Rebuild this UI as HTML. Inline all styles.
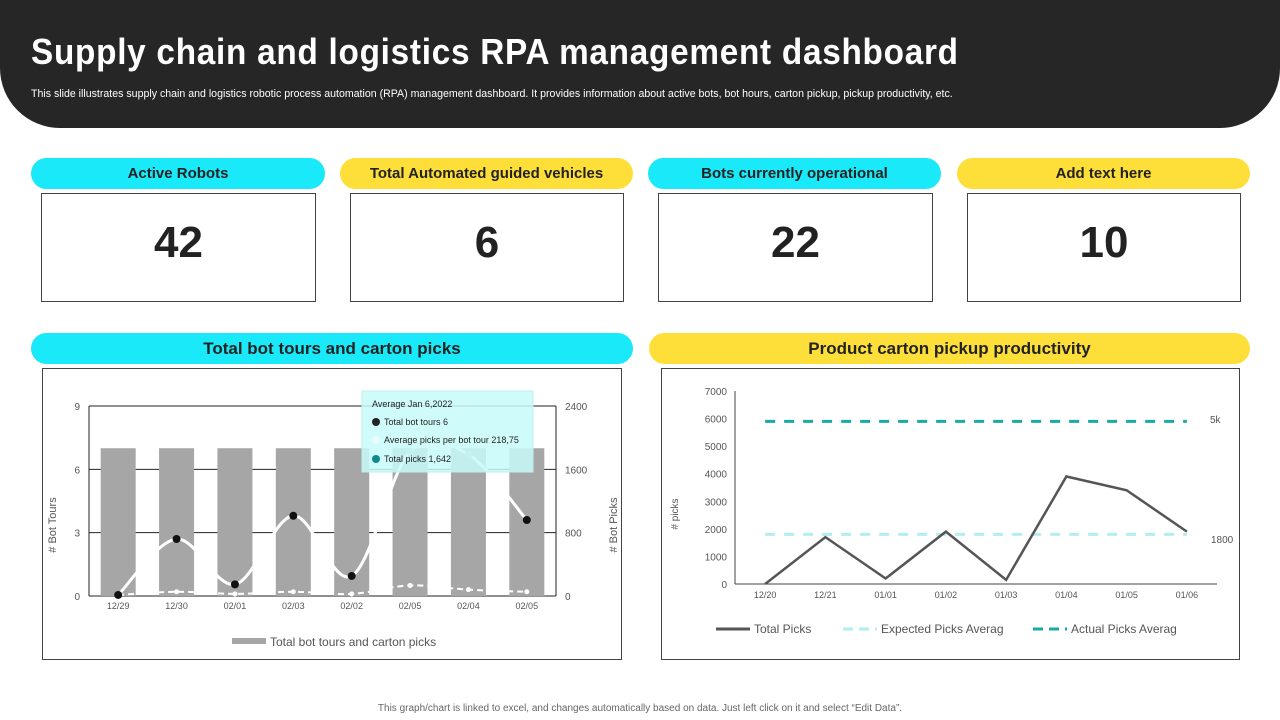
<!DOCTYPE html>
<html><head><meta charset="utf-8"><style>
body{margin:0;width:1280px;height:720px;background:#fff;font-family:"Liberation Sans",sans-serif;position:relative;overflow:hidden}
.abs{position:absolute}
.header{left:0;top:0;width:1280px;height:128px;background:#262626;border-radius:0 0 60px 60px}
.title{left:31px;top:31px;color:#fff;font-size:36px;letter-spacing:0.8px;font-weight:bold;transform:scaleX(0.925);transform-origin:left}
.sub{left:31px;top:88px;color:#fff;font-size:10.6px}
.pill{height:31px;border-radius:16px;font-weight:bold;font-size:15px;color:#222;display:flex;align-items:center;justify-content:center}
.cyan{background:#19E9F8}.yellow{background:#FEDF3A}
.box{border:1px solid #444;display:flex;align-items:center;justify-content:center;font-size:44px;font-weight:bold;color:#222;padding-bottom:10px;box-sizing:border-box;height:109px}
.sec{font-size:17px}
.chartbox{border:1px solid #444;top:368px;height:290px}
</style></head><body>
<div class="abs header"></div>
<div class="abs title">Supply chain and logistics RPA management dashboard</div>
<div class="abs sub">This slide illustrates supply chain and logistics robotic process automation (RPA) management dashboard. It provides information about active bots, bot hours, carton pickup, pickup productivity, etc.</div>

<div class="abs pill cyan" style="left:31px;top:158px;width:294px">Active Robots</div>
<div class="abs pill yellow" style="left:340px;top:158px;width:293px">Total Automated guided vehicles</div>
<div class="abs pill cyan" style="left:648px;top:158px;width:293px">Bots currently operational</div>
<div class="abs pill yellow" style="left:957px;top:158px;width:293px">Add text here</div>
<div class="abs box" style="left:41px;top:193px;width:275px">42</div>
<div class="abs box" style="left:350px;top:193px;width:274px">6</div>
<div class="abs box" style="left:658px;top:193px;width:275px">22</div>
<div class="abs box" style="left:967px;top:193px;width:274px">10</div>

<div class="abs pill cyan sec" style="left:31px;top:333px;width:602px">Total bot tours and carton picks</div>
<div class="abs pill yellow sec" style="left:649px;top:333px;width:601px">Product carton pickup productivity</div>
<div class="abs chartbox" style="left:42px;width:578px"></div>
<div class="abs chartbox" style="left:661px;width:577px"></div>

<svg class="abs" style="left:0;top:0" width="1280" height="720" id="svg"></svg>

<div class="abs" style="left:0;width:1280px;top:703px;text-align:center;font-size:10px;color:#666">This graph/chart is linked to excel, and changes automatically based on data. Just left click on it and select “Edit Data”.</div>

<script>
const leftCats=["12/29","12/30","02/01","02/03","02/02","02/05","02/04","02/05"];
const barVals=[7,7,7,7,7,7,7,7];
const tourVals=[0.05,2.7,0.55,3.8,0.95,6.85,6.7,3.6];
const avgPickVals=[0.05,0.2,0.1,0.2,0.1,0.5,0.3,0.2];
const leftTicks=[0,3,6,9];
const rightTicks=[0,800,1600,2400];
const rCats=["12/20","12/21","01/01","01/02","01/03","01/04","01/05","01/06"];
const totalPicks=[0,1700,200,1900,150,3900,3400,1900];
const expectedAvg=1800;
const actualAvg=5900;
const rTicks=[0,1000,2000,3000,4000,5000,6000,7000];

const NS="http://www.w3.org/2000/svg";
const svg=document.getElementById('svg');
function el(t,a,txt){const e=document.createElementNS(NS,t);for(const k in a)e.setAttribute(k,a[k]);if(txt!=null)e.textContent=txt;svg.appendChild(e);return e;}

// left chart
const L={x0:89,x1:556,y0:596,y1:406,max:9};
const lx=i=>L.x0+(i+0.5)*(L.x1-L.x0)/leftCats.length;
const ly=v=>L.y0-(v/L.max)*(L.y0-L.y1);
leftTicks.forEach((t,i)=>{
 let g=el('line',{x1:L.x0,x2:L.x1,y1:ly(t),y2:ly(t),stroke:'#222','stroke-width':1});
 
 let a=el('text',{x:80,y:ly(t)+4,'text-anchor':'end','font-size':10,fill:'#555'},t);
 
 let b=el('text',{x:565,y:ly(t)+4,'font-size':10,fill:'#555'},rightTicks[i]);
 
});
el('line',{x1:L.x0,x2:L.x0,y1:L.y1,y2:L.y0,stroke:'#222'});
el('line',{x1:L.x1,x2:L.x1,y1:L.y1,y2:L.y0,stroke:'#222'});
barVals.forEach((v,i)=>{
 let r=el('rect',{x:lx(i)-17.5,y:ly(v),width:35,height:L.y0-ly(v),fill:'#a6a6a6'});
 
 let t=el('text',{x:lx(i),y:609,'text-anchor':'middle','font-size':9,fill:'#555'},leftCats[i]);
 
});
function smooth(pts){let d='M'+pts[0][0]+','+pts[0][1];for(let i=0;i<pts.length-1;i++){const p0=pts[i-1]||pts[i],p1=pts[i],p2=pts[i+1],p3=pts[i+2]||p2;d+=' C'+(p1[0]+(p2[0]-p0[0])/6)+','+(p1[1]+(p2[1]-p0[1])/6)+' '+(p2[0]-(p3[0]-p1[0])/6)+','+(p2[1]-(p3[1]-p1[1])/6)+' '+p2[0]+','+p2[1];}return d;}
let tp=tourVals.map((v,i)=>[lx(i),ly(v)]);
let ln=el('path',{d:smooth(tp),fill:'none',stroke:'#fff','stroke-width':3});

let ap=avgPickVals.map((v,i)=>[lx(i),ly(v)]);
let dl=el('path',{d:smooth(ap),fill:'none',stroke:'#fff','stroke-width':2,'stroke-dasharray':'6,4'});

ap.forEach(p=>el('circle',{cx:p[0],cy:p[1],r:2.5,fill:'#fff'}));
tp.forEach((p,i)=>{let c=el('circle',{cx:p[0],cy:p[1],r:4,fill:(i==5||i==6)?'#bbb':'#111'});
 });
// tooltip
let tt=el('rect',{x:362,y:391,width:171,height:81,fill:'rgba(200,250,250,0.85)',stroke:'#bfeeee'});

el('text',{x:372,y:407,'font-size':9,fill:'#222'},'Average Jan 6,2022');
el('circle',{cx:376,cy:422,r:4,fill:'#222'});el('text',{x:384,y:425,'font-size':9,fill:'#222'},'Total bot tours 6');
el('circle',{cx:376,cy:440,r:4,fill:'#e6fcfc'});el('text',{x:384,y:443,'font-size':9,fill:'#222'},'Average picks per bot tour 218,75');
el('circle',{cx:376,cy:459,r:4,fill:'#0e8a8a'});el('text',{x:384,y:462,'font-size':9,fill:'#222'},'Total picks 1,642');
let y1t=el('text',{x:56,y:525,'text-anchor':'middle','font-size':11,fill:'#555',transform:'rotate(-90 56 525)'},'# Bot Tours');

let y2t=el('text',{x:617,y:525,'text-anchor':'middle','font-size':11,fill:'#555',transform:'rotate(-90 617 525)'},'# Bot Picks');

el('rect',{x:232,y:638,width:34,height:6,fill:'#a6a6a6'});
let lg=el('text',{x:270,y:646,'font-size':12,fill:'#555'},'Total bot tours and carton picks');


// right chart
const R={x0:735,x1:1217,y0:584,y1:391,max:7000};
const rx=i=>R.x0+(i+0.5)*(R.x1-R.x0)/rCats.length;
const ry=v=>R.y0-(v/R.max)*(R.y0-R.y1);
el('line',{x1:R.x0,x2:R.x0,y1:R.y1,y2:R.y0,stroke:'#444'});
el('line',{x1:R.x0,x2:R.x1,y1:R.y0,y2:R.y0,stroke:'#444'});
rTicks.forEach(t=>{let a=el('text',{x:727,y:ry(t)+4,'text-anchor':'end','font-size':10,fill:'#555'},t);
 });
rCats.forEach((c,i)=>{let a=el('text',{x:rx(i),y:598,'text-anchor':'middle','font-size':9,fill:'#555'},c);
 });
let e1=el('line',{x1:rx(0),x2:rx(7),y1:ry(expectedAvg),y2:ry(expectedAvg),stroke:'#b2eef0','stroke-width':3,'stroke-dasharray':'10,9'});

let a1=el('line',{x1:rx(0),x2:rx(7),y1:ry(actualAvg),y2:ry(actualAvg),stroke:'#1aaaa6','stroke-width':3,'stroke-dasharray':'10,9'});

let tl=el('polyline',{points:totalPicks.map((v,i)=>rx(i)+','+ry(v)).join(' '),fill:'none',stroke:'#555','stroke-width':2.5});

el('text',{x:1210,y:423,'font-size':10,fill:'#555'},'5k');
el('text',{x:1211,y:543,'font-size':10,fill:'#555'},'1800');
let yr=el('text',{x:678,y:514,'text-anchor':'middle','font-size':10,fill:'#555',transform:'rotate(-90 678 514)'},'# picks');

el('line',{x1:716,x2:750,y1:629,y2:629,stroke:'#555','stroke-width':3});
el('text',{x:754,y:633,'font-size':12,fill:'#555'},'Total Picks');
el('line',{x1:843,x2:877,y1:629,y2:629,stroke:'#b2eef0','stroke-width':3,'stroke-dasharray':'10,6'});
el('text',{x:881,y:633,'font-size':12,fill:'#555'},'Expected Picks Averag');
el('line',{x1:1033,x2:1067,y1:629,y2:629,stroke:'#1aaaa6','stroke-width':3,'stroke-dasharray':'10,6'});
el('text',{x:1071,y:633,'font-size':12,fill:'#555'},'Actual Picks Averag');
</script>
</body></html>
